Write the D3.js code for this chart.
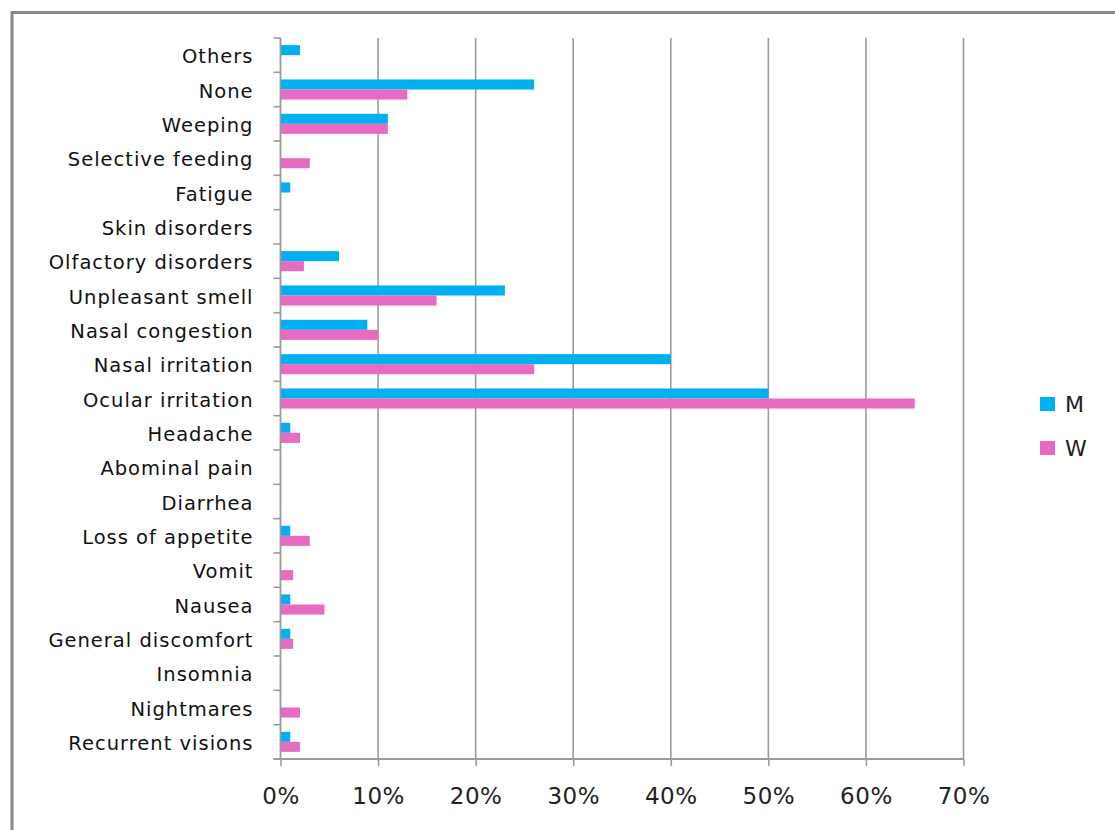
<!DOCTYPE html>
<html>
<head>
<meta charset="utf-8">
<script src="https://cdn.jsdelivr.net/npm/d3@7"></script>
<style>
  html, body { margin: 0; padding: 0; background: #fff; }
  svg { display: block; }
</style>
</head>
<body>
<svg id="chart" width="1115" height="830"></svg>
<script>
// Symptoms, listed top to bottom
const categories = [
  "Others", "None", "Weeping", "Selective feeding", "Fatigue", "Skin disorders",
  "Olfactory disorders", "Unpleasant smell", "Nasal congestion", "Nasal irritation",
  "Ocular irritation", "Headache", "Abominal pain", "Diarrhea", "Loss of appetite",
  "Vomit", "Nausea", "General discomfort", "Insomnia", "Nightmares", "Recurrent visions"
];
// Share of respondents (%) per series
const valuesM = [2, 26, 11, 0, 1, 0, 6, 23, 8.9, 40, 50, 1, 0, 0, 1, 0, 1, 1, 0, 0, 1];
const valuesW = [0, 13, 11, 3, 0, 0, 2.4, 16, 10, 26, 65, 2, 0, 0, 3, 1.3, 4.5, 1.3, 0, 2, 2];
const seriesNames = ["M", "W"];
const seriesColors = ["#00B0F0", "#E76CC1"];
const tickValues = [0, 10, 20, 30, 40, 50, 60, 70];

const svg = d3.select("#chart");
const font = "'DejaVu Sans', Verdana, sans-serif";

// Outer chart frame (runs off the right and bottom edges)
svg.append("rect")
  .attr("x", 12).attr("y", 12.5)
  .attr("width", 1200).attr("height", 900)
  .attr("fill", "none").attr("stroke", "#8a8a8a").attr("stroke-width", 3);

const plotLeft = 280.5, plotRight = 963.5, plotTop = 38, plotBottom = 759;

const x = d3.scaleLinear().domain([0, 70]).range([plotLeft, plotRight]);
const y = d3.scaleBand().domain(categories).range([plotTop, plotBottom]).paddingInner(0).paddingOuter(0);
const inner = d3.scaleBand().domain(seriesNames).range([0, y.bandwidth()]).paddingOuter(0.71).paddingInner(0);

// Vertical gridlines
svg.append("g").selectAll("line")
  .data(tickValues.slice(1))
  .join("line")
  .attr("x1", d => x(d)).attr("x2", d => x(d))
  .attr("y1", plotTop).attr("y2", plotBottom)
  .attr("stroke", "#9a9a9a").attr("stroke-width", 1.6);

// Bars
const rows = categories.map((c, i) => ({ c, vals: [valuesM[i], valuesW[i]] }));
const groups = svg.append("g").selectAll("g")
  .data(rows)
  .join("g")
  .attr("transform", d => `translate(0,${y(d.c)})`);

groups.selectAll("rect")
  .data(d => d.vals.map((v, k) => ({ v, k })).filter(e => e.v > 0))
  .join("rect")
  .attr("x", x(0))
  .attr("y", e => inner(seriesNames[e.k]))
  .attr("width", e => x(e.v) - x(0))
  .attr("height", inner.bandwidth())
  .attr("fill", e => seriesColors[e.k]);

// Category axis
const yAxis = d3.axisLeft(y).tickSize(0).tickPadding(27);
const gy = svg.append("g").attr("transform", `translate(${plotLeft},0)`).call(yAxis);
gy.select(".domain").remove();
gy.selectAll("text")
  .attr("font-family", font).attr("font-size", 19.5).attr("fill", "#111")
  .attr("letter-spacing", "1px")
  .attr("dy", "0.42em");

// Category boundary ticks
svg.append("g").selectAll("line")
  .data(d3.range(categories.length + 1))
  .join("line")
  .attr("x1", plotLeft - 7).attr("x2", plotLeft)
  .attr("y1", i => plotTop + i * y.step()).attr("y2", i => plotTop + i * y.step())
  .attr("stroke", "#9a9a9a").attr("stroke-width", 1.6);

svg.append("line")
  .attr("x1", plotLeft).attr("x2", plotLeft)
  .attr("y1", plotTop).attr("y2", plotBottom)
  .attr("stroke", "#9a9a9a").attr("stroke-width", 1.8);

// Value axis
const xAxis = d3.axisBottom(x).tickValues(tickValues)
  .tickFormat(d => d + "%").tickSize(7).tickPadding(22);
const gx = svg.append("g").attr("transform", `translate(0,${plotBottom})`).call(xAxis);
gx.select(".domain").remove();
gx.selectAll(".tick line").attr("stroke", "#9a9a9a").attr("stroke-width", 1.6);
gx.selectAll("text")
  .attr("font-family", font).attr("font-size", 23).attr("fill", "#222")
  .attr("letter-spacing", "0.5px");
svg.append("line")
  .attr("x1", plotLeft - 7).attr("x2", plotRight)
  .attr("y1", plotBottom).attr("y2", plotBottom)
  .attr("stroke", "#9a9a9a").attr("stroke-width", 1.8);

// Legend
const legend = svg.append("g").attr("transform", "translate(1040,397)");
const item = legend.selectAll("g")
  .data(seriesNames)
  .join("g")
  .attr("transform", (d, i) => `translate(0,${i * 44})`);
item.append("rect")
  .attr("width", 15).attr("height", 14)
  .attr("fill", (d, i) => seriesColors[i]);
item.append("text")
  .attr("x", 25).attr("y", 7).attr("dy", "0.36em")
  .attr("font-family", font).attr("font-size", 22).attr("fill", "#222")
  .text(d => d);
</script>
</body>
</html>
